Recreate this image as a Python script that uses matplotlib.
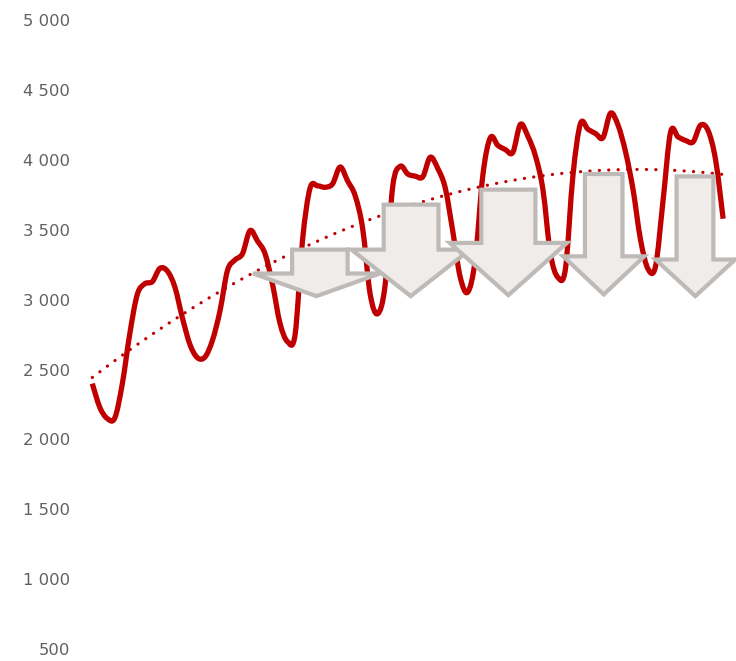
import numpy as np
import matplotlib
matplotlib.use("Agg")
import matplotlib.pyplot as plt
from matplotlib.path import Path
from matplotlib.patches import PathPatch, Polygon
from matplotlib.ticker import FuncFormatter

# Monthly values, seven years
sales = [
    2410, 2240, 2160, 2165, 2410, 2770, 3050, 3125, 3140, 3235, 3215, 3100,
    2880, 2690, 2595, 2600, 2720, 2930, 3220, 3295, 3340, 3505, 3430, 3340,
    3120, 2840, 2710, 2760, 3440, 3810, 3825, 3815, 3840, 3960, 3860, 3755,
    3520, 3050, 2910, 3120, 3820, 3965, 3910, 3895, 3890, 4030, 3950, 3810,
    3500, 3170, 3065, 3300, 3900, 4170, 4115, 4085, 4065, 4265, 4180, 4040,
    3800, 3340, 3170, 3230, 3900, 4270, 4230, 4200, 4170, 4345, 4260, 4070,
    3800, 3440, 3230, 3250, 3720, 4210, 4175, 4150, 4140, 4260, 4220, 4010,
    3590,
]
months = np.arange(len(sales))

y_ticks = [500, 1000, 1500, 2000, 2500, 3000, 3500, 4000, 4500, 5000]

# Down-arrow callouts: (head left, shaft left, shaft right, head right) in month units,
# then (shaft top, shoulder, tip) in value units
arrow_x = [
    (21.4, 26.6, 34.0, 38.3),
    (34.5, 38.8, 46.1, 50.3),
    (47.6, 51.8, 59.0, 63.2),
    (62.7, 65.6, 70.6, 73.5),
    (75.0, 77.8, 82.7, 85.6),
]
arrow_y = [
    (3369, 3198, 3036),
    (3691, 3369, 3036),
    (3798, 3417, 3043),
    (3910, 3321, 3048),
    (3893, 3298, 3036),
]

RED = "#C00000"
LABEL_GREY = "#606060"

fig = plt.figure(figsize=(7.36, 6.61), dpi=100)
ax = fig.add_axes([85 / 736, 0, 1 - 85 / 736, 1])

px_x = 7.51
px_y = (650.5 - 21.7) / 4500
ax.set_xlim((85 - 92.3) / px_x, (736 - 92.3) / px_x)
ax.set_ylim(5000 - (661 - 21.7) / px_y, 5000 + 21.7 / px_y)


def smooth_path(x, y):
    """Cubic Bezier path through the points (Catmull-Rom style tangents)."""
    pts = np.column_stack([x, y]).astype(float)
    n = len(pts)
    verts = [pts[0]]
    codes = [Path.MOVETO]
    for i in range(n - 1):
        p0 = pts[i - 1] if i > 0 else pts[i]
        p1 = pts[i]
        p2 = pts[i + 1]
        p3 = pts[i + 2] if i + 2 < n else pts[i + 1]
        c1 = p1 + (p2 - p0) / 6.0
        c2 = p2 - (p3 - p1) / 6.0
        verts += [c1, c2, p2]
        codes += [Path.CURVE4] * 3
    return Path(np.array(verts), codes)


line = PathPatch(smooth_path(months, sales), facecolor="none", edgecolor=RED,
                 lw=3.8, joinstyle="round", capstyle="butt", zorder=2,
                 transform=ax.transData)
ax.add_patch(line)

# Second-order polynomial trend
coef = np.polyfit(months, sales, 2)
tx = np.linspace(months[0], months[-1], 300)
ax.plot(tx, np.polyval(coef, tx), color=RED, lw=2.3,
        linestyle=(0, (0.05, 2.9)), dash_capstyle="round", zorder=3)

for (hl, sl, sr, hr), (top, sh, tip) in zip(arrow_x, arrow_y):
    cx = (hl + hr) / 2
    verts = [(sl, top), (sr, top), (sr, sh), (hr, sh), (cx, tip), (hl, sh), (sl, sh)]
    ax.add_patch(Polygon(verts, closed=True, facecolor="#F0ECE9",
                         edgecolor="#BEBAB7", lw=3.0, joinstyle="miter",
                         zorder=4, clip_on=False))

ax.set_yticks(y_ticks)
ax.yaxis.set_major_formatter(FuncFormatter(lambda v, p: f"{int(v):,}".replace(",", " ")))
ax.tick_params(axis="y", length=0, pad=10.8, labelsize=11.8, labelcolor=LABEL_GREY)
ax.set_xticks([])
for s in ax.spines.values():
    s.set_visible(False)
for lab in ax.get_yticklabels():
    lab.set_fontfamily("DejaVu Sans")
    lab.set_verticalalignment("center")

fig.savefig("out.png", dpi=100)
